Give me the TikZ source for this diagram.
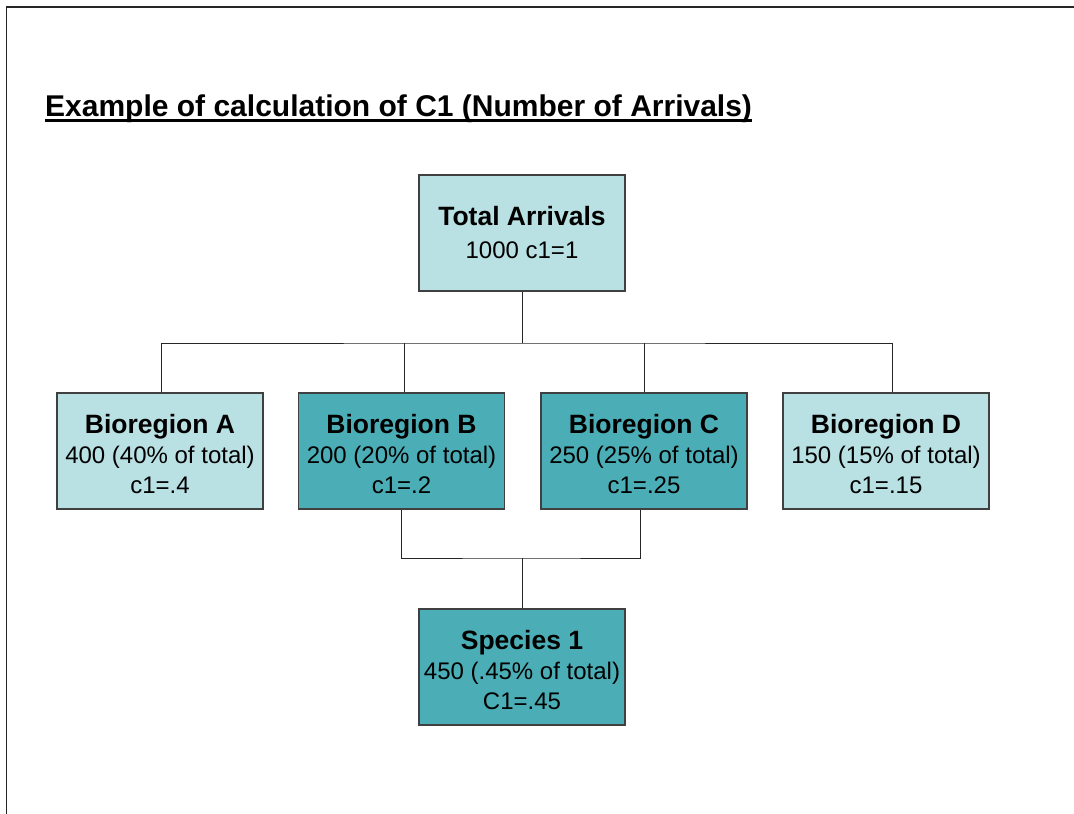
\documentclass[tikz,border=0pt]{standalone}
\usepackage{fontspec}
\setmainfont{Liberation Sans}
\definecolor{lightteal}{HTML}{B9E0E3}
\definecolor{darkteal}{HTML}{4BAEB6}
\definecolor{boxline}{HTML}{404040}
\newcommand{\hd}[1]{{\fontsize{26.5}{30}\selectfont\bfseries #1}}
\newcommand{\hdd}[1]{{\fontsize{26.5}{30}\selectfont\bfseries\rule{0pt}{25pt}#1}}
\tikzset{
  box/.style={draw=boxline, line width=1.3pt, minimum width=206pt, minimum height=116pt,
    align=center, inner sep=0pt, font=\fontsize{24}{30}\selectfont},
  light/.style={box, fill=lightteal},
  dark/.style={box, fill=darkteal},
  conn/.style={draw=black!85, line width=1pt},
}
\begin{document}
\begin{tikzpicture}[x=1pt,y=-1pt]
\useasboundingbox (0,0) rectangle (1074,814);
\draw[line width=1.8pt, black!85] (1074,7) -- (6.5,7) -- (6.5,814);
\node[anchor=base west, inner sep=0pt, font=\fontsize{30}{34}\selectfont\bfseries] (title) at (45,116) {Example of calculation of C1 (Number of Arrivals)};
\draw[line width=3pt] ([yshift=-4.5pt]title.base west) -- ([yshift=-4.5pt]title.base east);

\node[light] (total) at (522,233) {\hd{Total Arrivals}\\[3pt]1000 c1=1};
\node[light] (A) at (160,451) {\hdd{Bioregion A}\\400 (40\% of total)\\c1=.4};
\node[dark] (B) at (401.5,451) {\hdd{Bioregion B}\\200 (20\% of total)\\c1=.2};
\node[dark] (C) at (644,451) {\hdd{Bioregion C}\\250 (25\% of total)\\c1=.25};
\node[light] (D) at (886,451) {\hdd{Bioregion D}\\150 (15\% of total)\\c1=.15};
\node[dark] (S) at (522,667) {\hdd{Species 1}\\450 (.45\% of total)\\C1=.45};

\coordinate (top) at (522,343);
\draw[conn] (total.south) -- (top);
\draw[conn] (A.north -| 161,0) |- (top) -| (D.north -| 892,0);
\draw[conn] (B.north -| 404,0) -- (404,343);
\draw[conn] (C.north -| 644,0) -- (644,343);
\coordinate (bot) at (522,558);
\draw[conn] (B.south -| 401,0) |- (bot) -| (C.south -| 640,0);
\draw[conn] (bot) -- (S.north);
\end{tikzpicture}
\end{document}
